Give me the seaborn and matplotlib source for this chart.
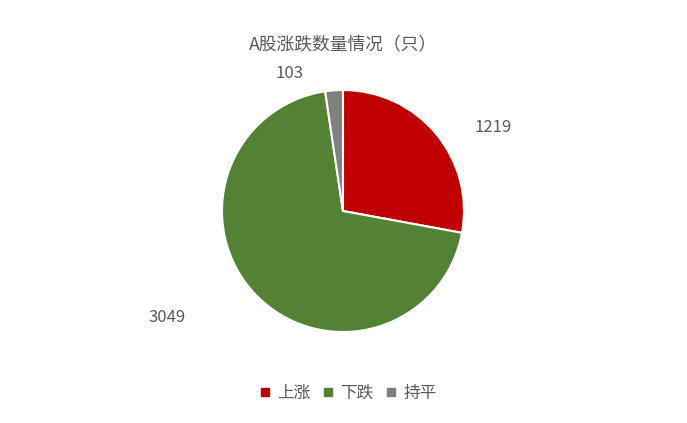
import matplotlib
matplotlib.use("Agg")
import matplotlib.pyplot as plt
from matplotlib.lines import Line2D
import seaborn as sns

categories = ["上涨", "下跌", "持平"]
values = [1219, 3049, 103]
colors_hex = ["#C00000", "#548235", "#7F7F7F"]
title = "A股涨跌数量情况（只）"

sns.set_theme(style="white")
plt.rcParams['font.family'] = ['Noto Sans CJK SC', 'DejaVu Sans']

palette = sns.color_palette(colors_hex)
text_color = "#595959"

fig = plt.figure(figsize=(6.87, 4.23), dpi=100)
ax = fig.add_axes([0.2791, 0.1436, 0.4403, 0.7151])
wedges, _ = ax.pie(values, colors=palette, startangle=90, counterclock=False,
                   wedgeprops=dict(edgecolor="white", linewidth=1.5))
ax.set_xlim(-1.25, 1.25)
ax.set_ylim(-1.25, 1.25)
ax.set_aspect("equal")

# data labels (Excel-like placement outside the pie)
label_pos = [(1.24, 0.69), (-1.45, -0.88), (-0.44, 1.14)]
for v, (x, y) in zip(values, label_pos):
    ax.text(x, y, f"{v}", ha="center", va="center", fontsize=12, color=text_color)

fig.text(0.5, 1 - 45 / 423, title, ha="center", va="center", fontsize=12.8, color=text_color)

handles = [Line2D([0], [0], marker="s", linestyle="none", markersize=6,
                  markerfacecolor=c, markeredgecolor=c) for c in palette]
leg = fig.legend(handles, categories, loc="center", bbox_to_anchor=(347 / 687, 30 / 423), ncol=3,
                 frameon=False, fontsize=12, handletextpad=0.3, columnspacing=0.6,
                 handlelength=0.9)
for t in leg.get_texts():
    t.set_color(text_color)

fig.savefig("out.png", dpi=100)
